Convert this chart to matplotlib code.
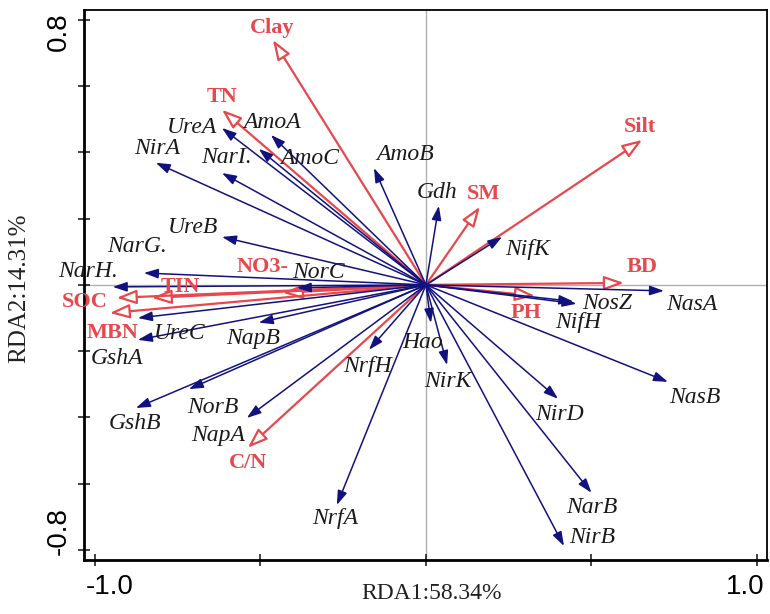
import numpy as np
import matplotlib
matplotlib.use("Agg")
import matplotlib.pyplot as plt

# environmental variables (red arrows)
env_names = ["Clay", "TN", "Silt", "SM", "BD", "PH", "NO3-", "TIN", "SOC", "MBN", "C/N"]
env_x = [-0.462, -0.616, 0.653, 0.163, 0.598, 0.329, -0.432, -0.828, -0.934, -0.955, -0.538]
env_y = [0.740, 0.529, 0.438, 0.236, 0.006, -0.033, -0.024, -0.039, -0.039, -0.085, -0.492]
env_lab_x = [-0.465, -0.616, 0.647, 0.175, 0.653, 0.302, -0.492, -0.743, -1.030, -0.946, -0.538]
env_lab_y = [0.776, 0.568, 0.477, 0.275, 0.054, -0.085, 0.054, -0.006, -0.051, -0.145, -0.538]

# functional genes (blue arrows)
gene_names = ["UreA", "AmoA", "AmoC", "NirA", "NarI.", "AmoB", "Gdh", "NifK", "UreB",
              "NarG.", "NarH.", "NorC", "UreC", "GshA", "NapB", "GshB", "NorB", "NapA",
              "NrfH", "NrfA", "Hao", "NirK", "NirD", "NasB", "NarB", "NirB", "NosZ",
              "NifH", "NasA"]
gene_x = [-0.616, -0.468, -0.505, -0.816, -0.616, -0.157, 0.039, 0.230, -0.616,
          -0.852, -0.946, -0.390, -0.870, -0.870, -0.505, -0.876, -0.716, -0.541,
          -0.172, -0.269, 0.015, 0.064, 0.399, 0.731, 0.500, 0.417, 0.455,
          0.445, 0.719]
gene_y = [0.474, 0.453, 0.411, 0.369, 0.338, 0.353, 0.239, 0.145, 0.145,
          0.036, -0.006, -0.009, -0.100, -0.166, -0.114, -0.372, -0.315, -0.402,
          -0.196, -0.665, -0.115, -0.242, -0.344, -0.293, -0.628, -0.789, -0.057,
          -0.050, -0.018]
gene_lab_x = [-0.707, -0.465, -0.350, -0.813, -0.601, -0.063, 0.033, 0.308, -0.704,
              -0.873, -1.021, -0.326, -0.743, -0.934, -0.523, -0.879, -0.644, -0.628,
              -0.178, -0.275, -0.009, 0.066, 0.402, 0.813, 0.502, 0.502, 0.547,
              0.459, 0.804]
gene_lab_y = [0.474, 0.492, 0.381, 0.411, 0.384, 0.393, 0.278, 0.106, 0.172,
              0.115, 0.039, 0.036, -0.148, -0.221, -0.163, -0.420, -0.369, -0.456,
              -0.248, -0.707, -0.175, -0.293, -0.393, -0.341, -0.674, -0.764, -0.057,
              -0.115, -0.060]

red = "#e8474b"
navy = "#12127f"

fig = plt.figure(figsize=(7.7, 6.14), dpi=100)
ax = fig.add_axes([0.109, 0.088, 0.887, 0.896])
ax.set_xlim(-1.033, 1.030)
ax.set_ylim(-0.831, 0.831)

ax.axhline(0, color="#b0b0b0", lw=1, zorder=0)
ax.axvline(0, color="#b0b0b0", lw=1, zorder=0)

for x, y in zip(env_x, env_y):
    ax.annotate("", xy=(x, y), xytext=(0, 0),
                arrowprops=dict(arrowstyle="-|>,head_length=12,head_width=4.3",
                                mutation_scale=1, ec=red, fc="white", lw=1.6,
                                shrinkA=0, shrinkB=0), zorder=2)

for x, y in zip(gene_x, gene_y):
    ax.annotate("", xy=(x, y), xytext=(0, 0),
                arrowprops=dict(arrowstyle="-|>,head_length=8.6,head_width=2.9",
                                mutation_scale=1, ec=navy, fc=navy, lw=1.1,
                                shrinkA=0, shrinkB=0), zorder=3)

for name, x, y in zip(env_names, env_lab_x, env_lab_y):
    ax.text(x, y, name, color=red, fontsize=16, fontweight="bold",
            family="Liberation Serif", ha="center", va="center", clip_on=False, zorder=4)

for name, x, y in zip(gene_names, gene_lab_x, gene_lab_y):
    ax.text(x, y, name, color="#1a1a1a", fontsize=17, style="italic",
            family="Liberation Serif", ha="center", va="center", clip_on=False, zorder=4)

# axes, ticks
ax.set_xticks([-1.0, -0.5, 0, 0.5, 1.0])
ax.set_yticks(np.arange(-0.8, 0.81, 0.2))
ax.set_xticklabels([])
ax.set_yticklabels([])
ax.tick_params(direction="inout", length=8, width=1.2, color="#222222")
for s in ax.spines.values():
    s.set_linewidth(1.3)
ax.spines["left"].set_linewidth(2)
ax.spines["bottom"].set_linewidth(2)

tf_y = ax.get_yaxis_transform()
tf_x = ax.get_xaxis_transform()
ax.text(-0.037, 0.764, "0.8", transform=tf_y, rotation=90, fontsize=20,
        family="Liberation Sans", ha="center", va="center")
ax.text(-0.037, -0.743, "-0.8", transform=tf_y, rotation=90, fontsize=20,
        family="Liberation Sans", ha="center", va="center")
ax.text(-0.955, -0.049, "-1.0", transform=tf_x, fontsize=20,
        family="Liberation Sans", ha="center", va="center")
ax.text(0.964, -0.049, "1.0", transform=tf_x, fontsize=20,
        family="Liberation Sans", ha="center", va="center")

ax.set_xlabel("RDA1:58.34%", fontsize=17, family="Liberation Serif", color="#222222")
ax.set_ylabel("RDA2:14.31%", fontsize=18, family="Liberation Serif", color="#222222")
ax.xaxis.set_label_coords(0.5095, -0.042)
ax.yaxis.set_label_coords(-0.079, 0.493)

fig.savefig("out.png", dpi=100)
